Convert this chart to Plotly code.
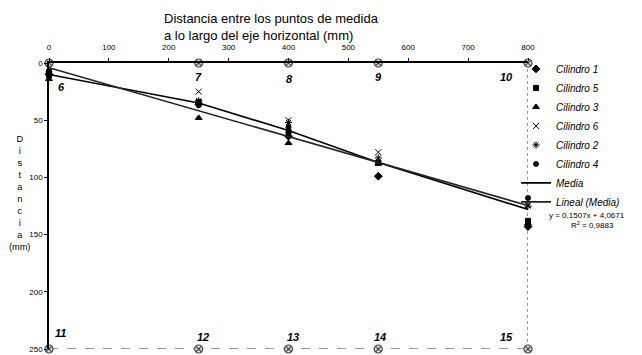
import plotly.graph_objects as go

# ---- data ----
x_pos = [0, 250, 400, 550, 800]
cil1 = [10, 36, 64, 99, 143]
cil5 = [8, 34, 60, 87, 138]
cil3 = [14, 48, 70, 88, 140]
cil6 = [5, 25, 50, 78, 124]
cil2 = [9, 33, 52, 83, 125]
cil4 = [12, 37, 56, 87, 118]
media = [10, 35, 59, 87, 128]
trend_slope = 0.1507
trend_intercept = 4.0671
top_labels = ["6", "7", "8", "9", "10"]
bottom_labels = ["11", "12", "13", "14", "15"]
x_ticks = [0, 100, 200, 300, 400, 500, 600, 700, 800]
y_ticks = [0, 50, 100, 150, 200, 250]

FONT = "Arial, Liberation Sans, sans-serif"

fig = go.Figure()

series = [
    ("Cilindro 1", cil1, "diamond", 6),
    ("Cilindro 5", cil5, "square", 5),
    ("Cilindro 3", cil3, "triangle-up", 6),
    ("Cilindro 6", cil6, "x-thin-open", 6),
    ("Cilindro 2", cil2, "asterisk-open", 6),
    ("Cilindro 4", cil4, "circle", 5),
]
for name, vals, sym, sz in series:
    fig.add_trace(go.Scatter(
        x=x_pos, y=vals, mode="markers", name=name,
        marker=dict(symbol=sym, size=sz, color="black",
                    line=dict(color="black", width=1)),
        cliponaxis=False,
    ))

fig.add_trace(go.Scatter(
    x=x_pos, y=media, mode="lines", name="Media",
    line=dict(color="black", width=1.6), cliponaxis=False,
))
trend_x = [x_pos[0], x_pos[-1]]
trend_y = [trend_slope * v + trend_intercept for v in trend_x]
fig.add_trace(go.Scatter(
    x=trend_x, y=trend_y, mode="lines", name="Lineal (Media)",
    line=dict(color="#222222", width=1.6), cliponaxis=False,
))

# measuring point markers (top and bottom rows)
fig.add_trace(go.Scatter(
    x=x_pos + x_pos, y=[0] * len(x_pos) + [250] * len(x_pos),
    mode="markers", showlegend=False, hoverinfo="skip",
    marker=dict(symbol="circle-x", size=8, color="#dddddd",
                line=dict(color="#444444", width=1.2)),
    cliponaxis=False,
))

# frame: dotted right edge, dashed bottom edge
fig.add_shape(type="line", xref="x", yref="y", x0=800, x1=800, y0=0, y1=250,
              line=dict(color="#333333", width=1, dash="dot"), layer="below")
fig.add_shape(type="line", xref="x", yref="y", x0=0, x1=800, y0=250, y1=250,
              line=dict(color="#333333", width=1.2, dash="dash"), layer="below")

# point labels
top_shift = [(12, -24), (0, -14), (1, -16), (0, -14), (-22, -14)]
bot_shift = [(11, 16), (4, 12), (4, 12), (2, 12), (-22, 12)]
for xv, lab, (dx, dy) in zip(x_pos, top_labels, top_shift):
    fig.add_annotation(x=xv, y=0, xref="x", yref="y", text=f"<b><i>{lab}</i></b>",
                       showarrow=False, xshift=dx, yshift=dy,
                       font=dict(family=FONT, size=11, color="black"))
for xv, lab, (dx, dy) in zip(x_pos, bottom_labels, bot_shift):
    fig.add_annotation(x=xv, y=250, xref="x", yref="y", text=f"<b><i>{lab}</i></b>",
                       showarrow=False, xshift=dx, yshift=dy,
                       font=dict(family=FONT, size=11, color="black"))

# title
fig.add_annotation(
    xref="paper", yref="paper", x=0.236, y=1.19, xanchor="left", yanchor="top",
    text="Distancia entre los puntos de medida<br>a lo largo del eje horizontal (mm)",
    showarrow=False, align="left",
    font=dict(family=FONT, size=13, color="black"),
)
# vertical axis title
fig.add_annotation(
    xref="paper", yref="paper", x=-0.062, y=0.545, xanchor="center", yanchor="middle",
    text="D<br>i<br>s<br>t<br>a<br>n<br>c<br>i<br>a<br>(mm)",
    showarrow=False, align="center",
    font=dict(family=FONT, size=9.2, color="black"),
)
# trend equation
fig.add_annotation(
    xref="paper", yref="paper", x=1.124, y=0.45, xanchor="center", yanchor="middle",
    text="y = 0,1507x + 4,0671<br>     R<sup>2</sup> = 0,9883",
    showarrow=False, align="center",
    font=dict(family=FONT, size=8, color="black"),
)

fig.update_layout(
    width=634, height=347,
    margin=dict(l=41, r=114, t=55, b=6, autoexpand=False),
    paper_bgcolor="white", plot_bgcolor="white",
    font=dict(family=FONT, size=8, color="black"),
    showlegend=True,
    legend=dict(
        x=0.975, y=1.03, xanchor="left", yanchor="top",
        font=dict(family=FONT, size=10, color="black", style="italic"),
        bgcolor="rgba(0,0,0,0)", tracegroupgap=0,
    ),
    xaxis=dict(
        side="top", range=[0, 800], tickvals=x_ticks, ticktext=[str(v) for v in x_ticks],
        showgrid=False, zeroline=False, showline=True, linecolor="black", linewidth=1.5,
        ticks="outside", ticklen=3, tickcolor="black", ticklabelstandoff=5,
        tickfont=dict(size=8), automargin=False,
    ),
    yaxis=dict(
        range=[250, 0], tickvals=y_ticks, ticktext=[str(v) for v in y_ticks],
        showgrid=False, zeroline=False, showline=True, linecolor="black", linewidth=1.5,
        ticks="outside", ticklen=3, tickcolor="black",
        tickfont=dict(size=8), automargin=False,
    ),
)

fig.write_html("out.html")
